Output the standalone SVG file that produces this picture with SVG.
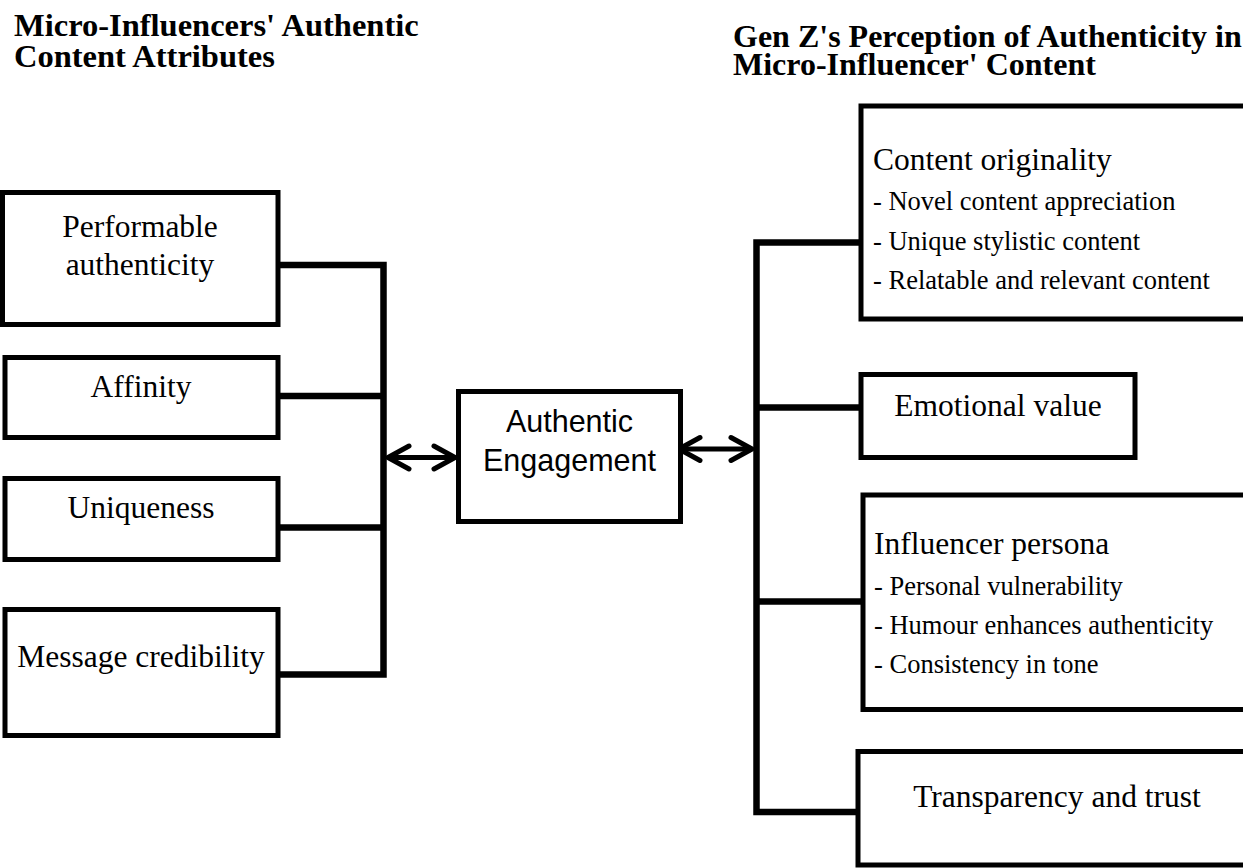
<svg xmlns="http://www.w3.org/2000/svg" width="1243" height="868" viewBox="0 0 1243 868">
  <style>
    .box { fill: #ffffff; stroke: #000000; stroke-width: 5; }
    .conn { fill: none; stroke: #000000; stroke-width: 6.5; stroke-linecap: square; }
    .arrow { fill: none; stroke: #000000; stroke-width: 5; }
    .title { font-family: "Liberation Serif", "Times New Roman", serif; font-weight: bold; font-size: 32.5px; fill: #000; }
    .lbl { font-family: "Liberation Serif", "Times New Roman", serif; font-size: 31.5px; fill: #000; }
    .bul { font-family: "Liberation Serif", "Times New Roman", serif; font-size: 26.5px; fill: #000; }
    .sans { font-family: "Liberation Sans", Arial, sans-serif; font-size: 30.5px; fill: #000; }
    .mid { text-anchor: middle; }
  </style>
  <defs>
    <marker id="chev" viewBox="-26 -16 32 32" markerWidth="32" markerHeight="32" refX="0" refY="0" markerUnits="userSpaceOnUse" orient="auto-start-reverse">
      <path d="M-21,-11.5 L0,0 L-21,11.5" fill="none" stroke="#000" stroke-width="5" stroke-linecap="round" stroke-linejoin="round"/>
    </marker>
  </defs>
  <rect width="1243" height="868" fill="#ffffff"/>

  <g id="titles">
    <text class="title" x="14" y="36">Micro-Influencers' Authentic</text>
    <text class="title" x="14" y="67">Content Attributes</text>
    <text class="title" x="733" y="47" style="font-size:32px">Gen Z's Perception of Authenticity in</text>
    <text class="title" x="733" y="75" style="font-size:32px">Micro-Influencer' Content</text>
  </g>

  <g id="connectors">
    <path class="conn" d="M279,265 H383.5 M279,396 H383.5 M279,527.5 H383.5 M279,674.5 H383.5 M383.5,265 V674.5"/>
    <path class="conn" d="M756.5,242.5 H861 M756.5,407.5 H861 M756.5,601.5 H863 M756.5,812 H858 M756.5,242.5 V812"/>
    <line class="arrow" x1="388" y1="457.5" x2="455" y2="457.5" marker-start="url(#chev)" marker-end="url(#chev)"/>
    <line class="arrow" x1="679" y1="449" x2="752" y2="449" marker-start="url(#chev)" marker-end="url(#chev)"/>
  </g>

  <g id="performable">
    <rect class="box" x="2.5" y="192.5" width="275.5" height="132"/>
    <text class="lbl mid" x="140" y="237">Performable</text>
    <text class="lbl mid" x="140" y="275">authenticity</text>
  </g>
  <g id="affinity">
    <rect class="box" x="5" y="357.5" width="273" height="80"/>
    <text class="lbl mid" x="141" y="397">Affinity</text>
  </g>
  <g id="uniqueness">
    <rect class="box" x="5" y="478.5" width="273" height="81"/>
    <text class="lbl mid" x="141" y="518">Uniqueness</text>
  </g>
  <g id="message-credibility">
    <rect class="box" x="5" y="609.5" width="273" height="126"/>
    <text class="lbl mid" x="141" y="667">Message credibility</text>
  </g>

  <g id="authentic-engagement">
    <rect class="box" x="458.5" y="391.5" width="222" height="130"/>
    <text class="sans mid" x="569.5" y="432">Authentic</text>
    <text class="sans mid" x="569.5" y="471">Engagement</text>
  </g>

  <g id="content-originality">
    <rect class="box" x="861" y="106" width="400" height="213"/>
    <text class="lbl" x="873" y="170">Content originality</text>
    <text class="bul" x="873" y="210">- Novel content appreciation</text>
    <text class="bul" x="873" y="249.5">- Unique stylistic content</text>
    <text class="bul" x="873" y="289">- Relatable and relevant content</text>
  </g>
  <g id="emotional-value">
    <rect class="box" x="861" y="374.5" width="274" height="83"/>
    <text class="lbl mid" x="998" y="416">Emotional value</text>
  </g>
  <g id="influencer-persona">
    <rect class="box" x="863" y="495" width="400" height="214.5"/>
    <text class="lbl" x="874" y="554">Influencer persona</text>
    <text class="bul" x="874" y="595">- Personal vulnerability</text>
    <text class="bul" x="874" y="634">- Humour enhances authenticity</text>
    <text class="bul" x="874" y="673">- Consistency in tone</text>
  </g>
  <g id="transparency-trust">
    <rect class="box" x="858" y="751.5" width="400" height="113.5"/>
    <text class="lbl mid" x="1057" y="807">Transparency and trust</text>
  </g>
</svg>
